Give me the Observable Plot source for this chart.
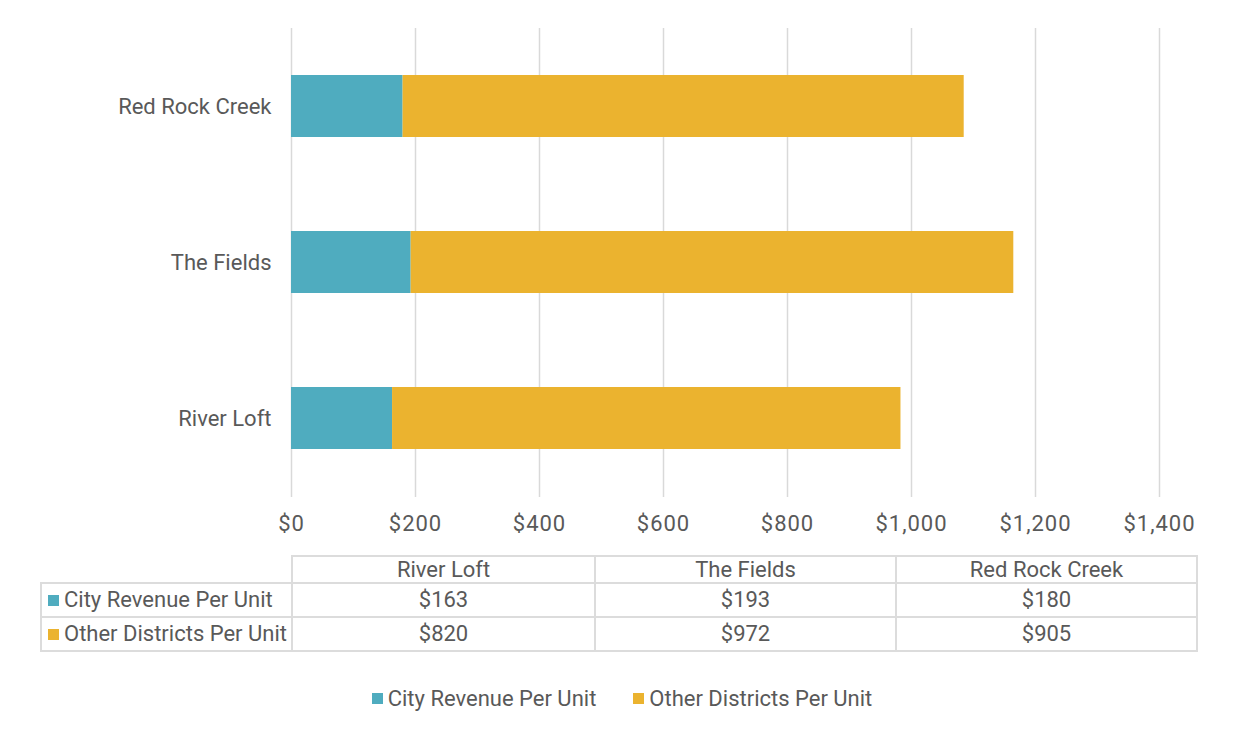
<!DOCTYPE html>
<html>
<head>
<meta charset="utf-8">
<script src="https://cdn.jsdelivr.net/npm/d3@7"></script>
<script src="https://cdn.jsdelivr.net/npm/@observablehq/plot@0.6"></script>
<style>
  html, body { margin: 0; padding: 0; background: #fff; }
  body { width: 1251px; height: 734px; position: relative; overflow: hidden;
         font-family: Roboto, "Liberation Sans", sans-serif; color: #595959; }
  #chart { position: absolute; left: 0; top: 0; }
  #chart svg g[aria-label="x-axis tick label"] text { letter-spacing: 1px; }
  #table { position: absolute; left: 40px; top: 555px; border-collapse: collapse; table-layout: fixed; font-size: 22px; color: #595959; }
  #table td { border: 2px solid #dcdcdc; padding: 0; text-align: center; white-space: nowrap; line-height: 1; }
  #table td.lab { text-align: left; padding-left: 6px; }
  #table td.empty { border-top: none; border-left: none; }
  .sw { display: inline-block; width: 11px; height: 11px; margin-right: 5px; vertical-align: 1px; }
  #legend { position: absolute; top: 686px; left: 0; width: 1244px; display: flex; justify-content: center; gap: 37px; font-size: 22px; }
  #legend span.item { display: flex; align-items: center; }
</style>
</head>
<body>
<div id="chart"></div>
<table id="table"></table>
<div id="legend"></div>
<script>
const districts = ["River Loft", "The Fields", "Red Rock Creek"];
const cityRevenue = [163, 193, 180];
const otherDistricts = [820, 972, 905];
const seriesNames = ["City Revenue Per Unit", "Other Districts Per Unit"];
const seriesColors = ["#4facbf", "#ebb32f"];
const xTicks = [0, 200, 400, 600, 800, 1000, 1200, 1400];

const rows = [];
districts.forEach((d, i) => {
  rows.push({district: d, series: seriesNames[0], value: cityRevenue[i]});
  rows.push({district: d, series: seriesNames[1], value: otherDistricts[i]});
});

const fmt = v => "$" + d3.format(",")(v);

const plot = Plot.plot({
  width: 1251,
  height: 545,
  marginLeft: 291,
  marginRight: 92,
  marginTop: 28,
  marginBottom: 48,
  style: {fontFamily: "Roboto, 'Liberation Sans', sans-serif", fontSize: "22px", color: "#595959", background: "#fff"},
  x: {domain: [0, 1400], ticks: xTicks, tickFormat: fmt, tickSize: 0, tickPadding: 18, label: null},
  y: {domain: districts.slice().reverse(), paddingInner: 0.6, paddingOuter: 0.3, tickSize: 0, tickPadding: 20, label: null},
  color: {domain: seriesNames, range: seriesColors},
  marks: [
    Plot.ruleX(xTicks, {stroke: "#d9d9d9", strokeWidth: 1.5, strokeOpacity: 1}),
    Plot.barX(rows, Plot.stackX({y: "district", x: "value", fill: "series", order: seriesNames}))
  ]
});
document.getElementById("chart").appendChild(plot);

// data table
const table = document.getElementById("table");
const colW = [251, 303, 301, 301];
const cg = document.createElement("colgroup");
colW.forEach(w => { const c = document.createElement("col"); c.style.width = w + "px"; cg.appendChild(c); });
table.appendChild(cg);
const hdr = document.createElement("tr");
hdr.style.height = "27px";
hdr.innerHTML = `<td class="empty"></td>` + districts.map(d => `<td>${d}</td>`).join("");
table.appendChild(hdr);
[cityRevenue, otherDistricts].forEach((vals, si) => {
  const tr = document.createElement("tr");
  tr.style.height = "34px";
  tr.innerHTML = `<td class="lab"><span class="sw" style="background:${seriesColors[si]}"></span>${seriesNames[si]}</td>` +
    vals.map(v => `<td>${fmt(v)}</td>`).join("");
  table.appendChild(tr);
});

// legend
const legend = document.getElementById("legend");
seriesNames.forEach((s, i) => {
  const it = document.createElement("span");
  it.className = "item";
  it.innerHTML = `<span class="sw" style="background:${seriesColors[i]};width:11px;height:11px;margin-right:5px"></span>${s}`;
  legend.appendChild(it);
});
</script>
</body>
</html>
